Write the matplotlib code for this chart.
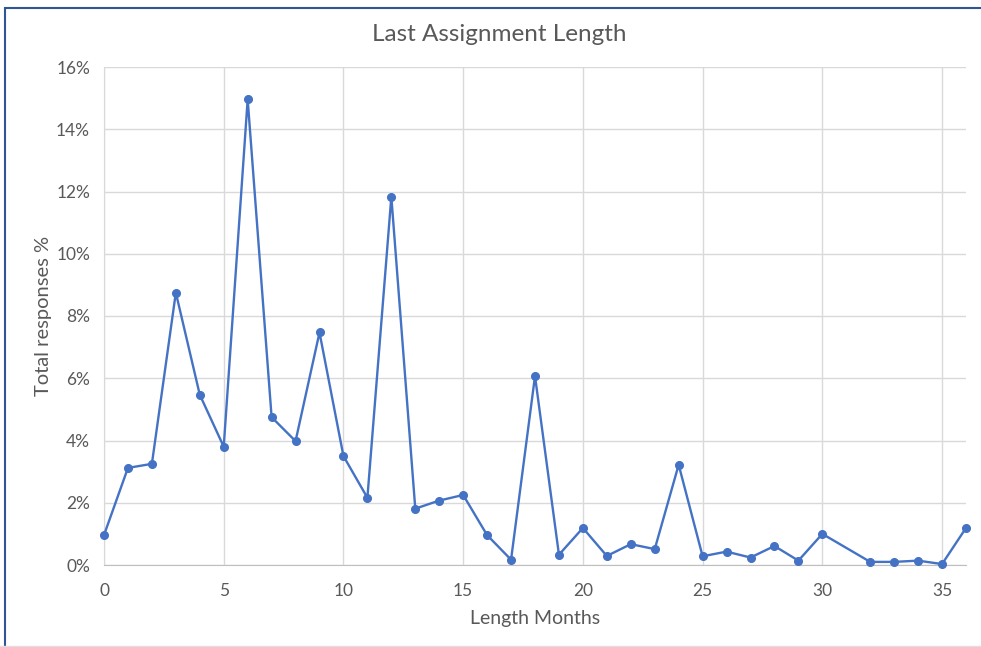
import numpy as np
import matplotlib.pyplot as plt
from matplotlib.ticker import FuncFormatter, MultipleLocator
from matplotlib.patches import Rectangle

plt.rcParams['font.family'] = ['Lato', 'DejaVu Sans']

# months (no responses recorded for month 31)
months = [0, 1, 2, 3, 4, 5, 6, 7, 8, 9, 10, 11, 12, 13, 14, 15, 16, 17, 18,
          19, 20, 21, 22, 23, 24, 25, 26, 27, 28, 29, 30, 32, 33, 34, 35, 36]
pct = [0.96, 3.12, 3.25, 8.75, 5.47, 3.80, 14.96, 4.75, 3.98, 7.47, 3.50,
       2.16, 11.83, 1.81, 2.07, 2.25, 0.96, 0.17, 6.07, 0.33, 1.19, 0.29,
       0.67, 0.51, 3.22, 0.28, 0.43, 0.24, 0.61, 0.14, 1.00, 0.10, 0.10,
       0.14, 0.03, 1.19]

txt = '#595959'
grid = '#d9d9d9'

fig = plt.figure(figsize=(9.81, 6.47), dpi=100)
ax = fig.add_axes([104/981, 82/647, 862/981, 498/647])

ax.plot(months, pct, color='#4472c4', lw=1.7, marker='o', ms=5.5, zorder=3,
        clip_on=False)

ax.set_xlim(0, 36)
ax.set_ylim(0, 16)
ax.xaxis.set_major_locator(MultipleLocator(5))
ax.yaxis.set_major_locator(MultipleLocator(2))
ax.yaxis.set_major_formatter(FuncFormatter(lambda v, p: f'{v:.0f}%'))
ax.grid(True, color=grid, lw=1)
ax.set_axisbelow(True)
for s in ['top', 'right']:
    ax.spines[s].set_visible(False)
ax.spines['left'].set_color(grid)
ax.spines['bottom'].set_color('#bfbfbf')
ax.tick_params(length=0, labelsize=12.5, colors=txt)
ax.tick_params(axis='x', pad=13)
ax.tick_params(axis='y', pad=10)

ax.set_xlabel('Length Months', fontsize=14, color=txt, labelpad=8)
ax.set_ylabel('Total responses %', fontsize=14.5, color=txt, labelpad=3)
fig.text(0.509, 0.946, 'Last Assignment Length', ha='center', va='center',
         fontsize=17.5, color=txt)

# chart frame
fig.add_artist(Rectangle((5/981, -0.01), 1.2, 0.004 + 1 - 4/647,
                         transform=fig.transFigure, fill=False,
                         edgecolor='#2f5597', lw=1.5))
fig.add_artist(plt.Line2D([0, 1], [1.5/647, 1.5/647], color='#e0e0e0', lw=1))

fig.savefig('out.png', dpi=100)
